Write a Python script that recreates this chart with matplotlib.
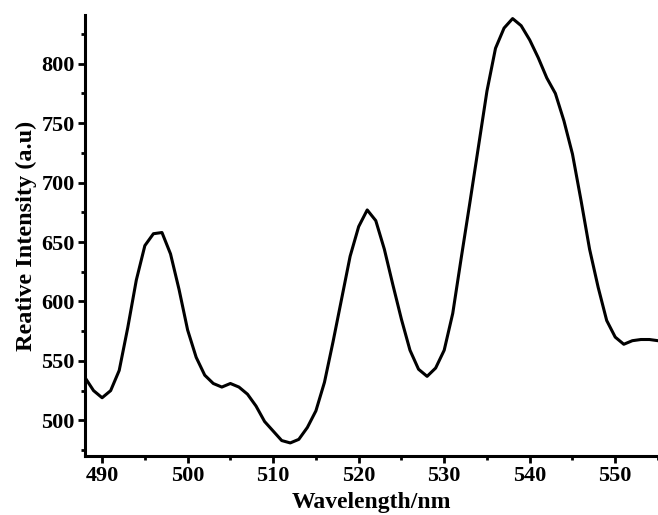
import numpy as np
import matplotlib.pyplot as plt
from matplotlib.ticker import MultipleLocator

# wavelength (nm) and intensity
wavelength = np.arange(488, 556)
intensity = [536, 525, 519, 525, 542, 578, 618, 647, 657, 658,
             640, 610, 576, 553, 538, 531, 528, 531, 528, 522,
             512, 499, 491, 483, 481, 484, 494, 508, 532, 566,
             602, 638, 663, 677, 668, 644, 614, 585, 559, 543,
             537, 544, 559, 590, 637, 683, 730, 777, 813, 830,
             838, 832, 820, 805, 788, 775, 752, 724, 685, 644,
             612, 584, 570, 564, 567, 568, 568, 567]

xlabel = 'Wavelength/nm'
ylabel = 'Reative Intensity (a.u)'

plt.rcParams['font.family'] = ['Liberation Serif', 'DejaVu Serif']
plt.rcParams['font.weight'] = 'bold'

fig = plt.figure(figsize=(6.58, 5.15), dpi=100)
ax = fig.add_axes([85/658, 59/515, 573/658, 441/515])

ax.plot(wavelength, intensity, color='black', lw=2.2)

ax.set_xlim(488, 555)
ax.set_ylim(470, 841)
ax.xaxis.set_major_locator(MultipleLocator(10))
ax.xaxis.set_minor_locator(MultipleLocator(5))
ax.yaxis.set_major_locator(MultipleLocator(50))
ax.yaxis.set_minor_locator(MultipleLocator(25))

for s in ['top', 'right']:
    ax.spines[s].set_visible(False)
for s in ['left', 'bottom']:
    ax.spines[s].set_linewidth(2.2)

ax.tick_params(which='major', direction='out', length=5, width=2,
               labelsize=16, pad=2.5)
ax.tick_params(which='minor', direction='out', length=3, width=2)
for lab in ax.get_xticklabels() + ax.get_yticklabels():
    lab.set_fontweight('bold')

ax.set_xlabel(xlabel, fontsize=17, fontweight='bold', labelpad=4)
ax.set_ylabel(ylabel, fontsize=17.5, fontweight='bold', labelpad=3)

fig.savefig('out.png', dpi=100)
